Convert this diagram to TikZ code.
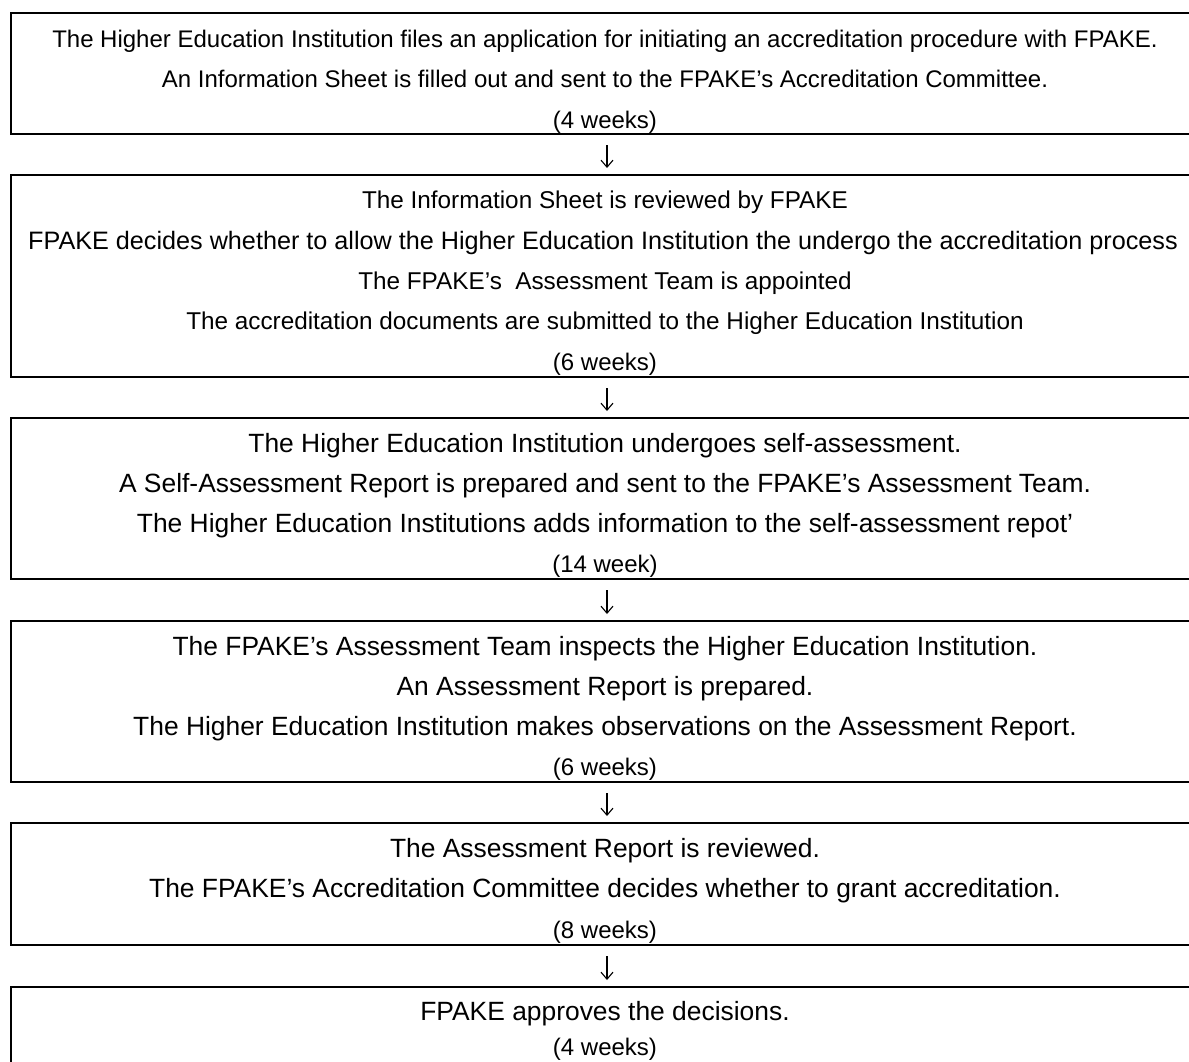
\documentclass[tikz,border=0pt]{standalone}
\usepackage{fontspec}
\setmainfont{Liberation Sans}
\usetikzlibrary{arrows.meta}
\begin{document}
\begin{tikzpicture}[x=1pt,y=-1pt,
  box/.style={draw, line width=1.5pt, minimum width=1188pt, inner sep=0pt, outer sep=0pt},
  tA/.style={anchor=base, inner sep=0pt, font=\fontsize{24}{24}\selectfont},
  tM/.style={anchor=base, inner sep=0pt, font=\fontsize{24.3}{24.3}\selectfont},
  tB/.style={anchor=base, inner sep=0pt, font=\fontsize{26.4}{26.4}\selectfont},
  arr/.style={line width=1.1pt, shorten <=11pt, shorten >=7pt, -{Straight Barb[length=7pt,width=12pt]}}]
\useasboundingbox (0,0) rectangle (1189,1061);
% boxes
\node[box, minimum height=121pt] (b1) at (605,73.5) {};
\node[box, minimum height=202pt] (b2) at (605,276) {};
\node[box, minimum height=161pt] (b3) at (605,498.5) {};
\node[box, minimum height=161pt] (b4) at (605,701.5) {};
\node[box, minimum height=122pt] (b5) at (605,884) {};
\node[box, minimum height=113pt] (b6) at (605,1043.5) {};
% box 1
\node[tA] (t11) at (605,47) {The Higher Education Institution files an application for initiating an accreditation procedure with FPAKE.};
\node[tA] (t12) at (605,87) {An Information Sheet is filled out and sent to the FPAKE’s Accreditation Committee.};
\node[tA] (t13) at (605,128) {(4 weeks)};
% box 2
\node[tM] (t21) at (605,208) {The Information Sheet is reviewed by FPAKE};
\node[tM, font=\fontsize{25.2}{25.2}\selectfont] (t22) at (603,249) {FPAKE decides whether to allow the Higher Education Institution the undergo the accreditation process};
\node[tM] (t23) at (605,289) {The FPAKE’s\ \ Assessment Team is appointed};
\node[tM] (t24) at (605,329) {The accreditation documents are submitted to the Higher Education Institution};
\node[tA] (t25) at (605,370) {(6 weeks)};
% box 3
\node[tB] (t31) at (605,452) {The Higher Education Institution undergoes self-assessment.};
\node[tB] (t32) at (605,492) {A Self-Assessment Report is prepared and sent to the FPAKE’s Assessment Team.};
\node[tB] (t33) at (605,532) {The Higher Education Institutions adds information to the self-assessment repot’};
\node[tA] (t34) at (605,572) {(14 week)};
% box 4
\node[tB] (t41) at (605,655) {The FPAKE’s Assessment Team inspects the Higher Education Institution.};
\node[tB] (t42) at (605,695) {An Assessment Report is prepared.};
\node[tB] (t43) at (605,735) {The Higher Education Institution makes observations on the Assessment Report.};
\node[tA] (t44) at (605,775) {(6 weeks)};
% box 5
\node[tB] (t51) at (605,857) {The Assessment Report is reviewed.};
\node[tB] (t52) at (605,897) {The FPAKE’s Accreditation Committee decides whether to grant accreditation.};
\node[tA] (t53) at (605,938) {(8 weeks)};
% box 6
\node[tB] (t61) at (605,1020) {FPAKE approves the decisions.};
\node[tA] (t62) at (605,1055) {(4 weeks)};
% arrows
\draw[arr] ([xshift=2pt]b1.south) -- ([xshift=2pt]b2.north);
\draw[arr] ([xshift=2pt]b2.south) -- ([xshift=2pt]b3.north);
\draw[arr] ([xshift=2pt]b3.south) -- ([xshift=2pt]b4.north);
\draw[arr] ([xshift=2pt]b4.south) -- ([xshift=2pt]b5.north);
\draw[arr] ([xshift=2pt]b5.south) -- ([xshift=2pt]b6.north);
\end{tikzpicture}
\end{document}
